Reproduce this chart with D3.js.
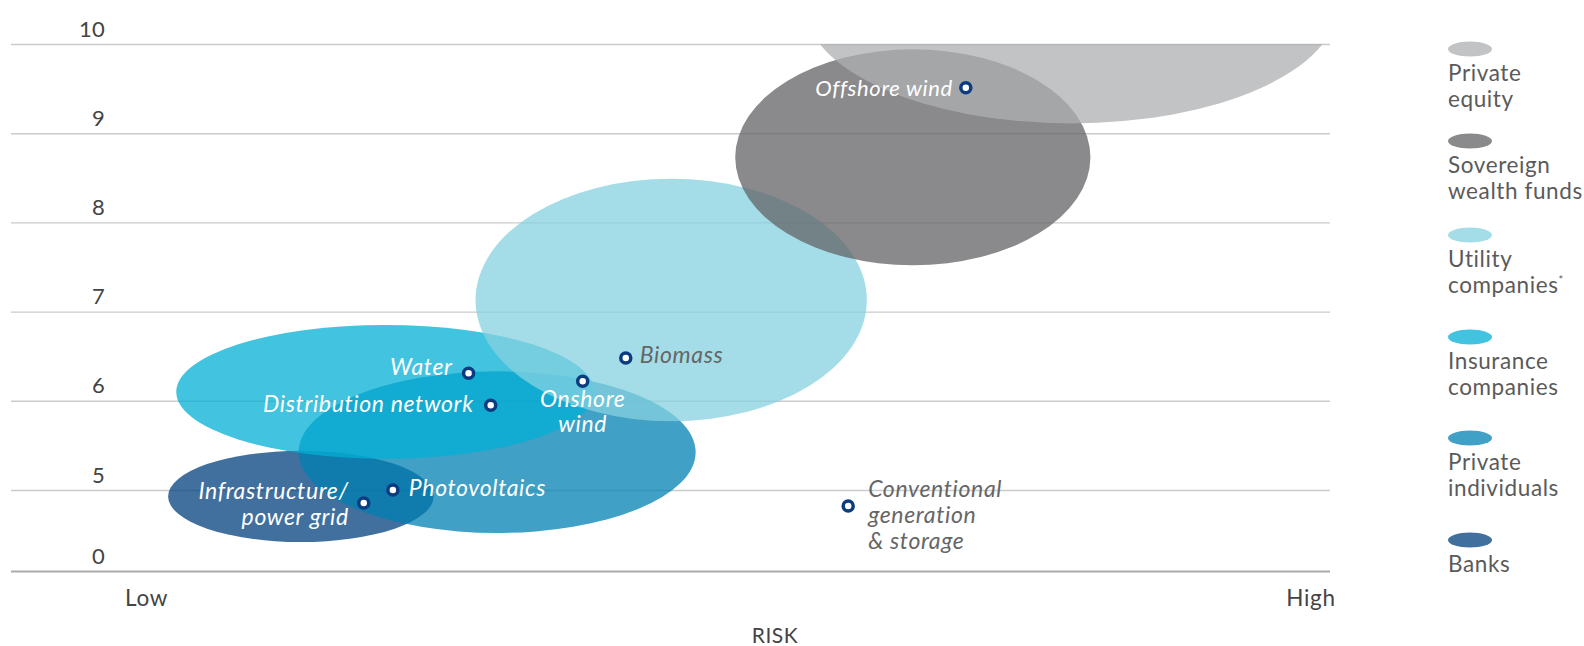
<!DOCTYPE html>
<html>
<head>
<meta charset="utf-8">
<script src="https://cdn.jsdelivr.net/npm/d3@7"></script>
<style>
  html, body { margin: 0; padding: 0; background: #fff; }
  svg { display: block; font-family: Lato, "Noto Sans", sans-serif; }
</style>
</head>
<body>
<svg id="chart" width="1584" height="646"></svg>
<script>
// ---- Data -------------------------------------------------------------
// Investor groups, in drawing order (bottom layer first)
const investors = ["Banks", "Private individuals", "Insurance companies",
                   "Utility companies", "Sovereign wealth funds", "Private equity"];
// Risk range (0 = low, 10 = high) covered by each investor group
const riskMin   = [0.19, 1.31, 0.26, 2.83, 5.06, 5.66];
const riskMax   = [2.47, 4.72, 3.85, 6.19, 8.11, 10.23];
// Return range covered by each investor group
const returnMin = [1.79, 2.35, 5.35, 5.77, 7.52, 9.11];
const returnMax = [5.44, 6.33, 6.85, 8.49, 9.94, 11.76];

// Asset classes (risk, return)
const assets      = ["Offshore wind", "Biomass", "Onshore wind", "Water",
                     "Distribution network", "Photovoltaics",
                     "Infrastructure/power grid", "Conventional generation & storage"];
const assetRisk   = [7.04, 4.12, 3.75, 2.77, 2.96, 2.12, 1.87, 6.03];
const assetReturn = [9.51, 6.48, 6.22, 6.31, 5.95, 5.00, 4.20, 4.01];

// Axis ticks
const yTicks = [0, 5, 6, 7, 8, 9, 10];
const xTickValues = [0, 10];
const xTickLabels = ["Low", "High"];
const xAxisTitle = "RISK";

// Legend, top to bottom
const legendLines = [["Private", "equity"], ["Sovereign", "wealth funds"],
                     ["Utility", "companies"], ["Insurance", "companies"],
                     ["Private", "individuals"], ["Banks"]];
const legendKeys  = ["Private equity", "Sovereign wealth funds", "Utility companies",
                     "Insurance companies", "Private individuals", "Banks"];

// ---- Styles & layout ---------------------------------------------------
const fillColor = {
  "Banks": "rgb(2,63,126)",
  "Private individuals": "rgb(0,128,178)",
  "Insurance companies": "rgb(3,175,212)",
  "Utility companies": "rgb(134,210,224)",
  "Sovereign wealth funds": "rgb(99,99,102)",
  "Private equity": "rgb(174,175,178)"
};
const fillOpacity = 0.75;

// label placement relative to each marker
const labelLayout = {
  "Offshore wind":        { lines: ["Offshore wind"], anchor: "end", dx: -13, dy: [8], color: "#fff", size: 22 },
  "Biomass":              { lines: ["Biomass"], anchor: "start", dx: 14, dy: [5], color: "#666", size: 23 },
  "Onshore wind":         { lines: ["Onshore", "wind"], anchor: "middle", dx: 0, dy: [26, 51], color: "#fff", size: 23 },
  "Water":                { lines: ["Water"], anchor: "end", dx: -16, dy: [2], color: "#fff", size: 23 },
  "Distribution network": { lines: ["Distribution network"], anchor: "end", dx: -17, dy: [7], color: "#fff", size: 23 },
  "Photovoltaics":        { lines: ["Photovoltaics"], anchor: "start", dx: 16, dy: [6], color: "#fff", size: 23 },
  "Infrastructure/power grid": { lines: ["Infrastructure/", "power grid"], anchor: "end", dx: -15, dy: [-4, 22], color: "#fff", size: 23 },
  "Conventional generation & storage": { lines: ["Conventional", "generation", "& storage"], anchor: "start", dx: 20, dy: [-9, 17, 43], color: "#666", size: 23 }
};

const plot = { left: 11, right: 1330, top: 44, bottom: 571 };
const legendX = 1448;
const legendY = [49, 141, 235, 337, 438, 540];

// ---- Scales ------------------------------------------------------------
const x = d3.scaleLinear().domain([0, 10]).range([146, 1310.5]);
// broken value axis: 0..5 compressed, 5..10 regular
const y = d3.scaleLinear().domain([0, 5, 10]).range([plot.bottom, 490, plot.top]);

const svg = d3.select("#chart");

svg.append("defs").append("clipPath").attr("id", "plotClip")
  .append("rect")
  .attr("x", plot.left).attr("y", plot.top)
  .attr("width", plot.right - plot.left).attr("height", plot.bottom - plot.top);

// ---- Gridlines & value axis -------------------------------------------
const yAxis = d3.axisLeft(y)
  .tickValues(yTicks)
  .tickFormat(d3.format("d"))
  .tickSize(-(plot.right - plot.left))
  .tickPadding(0);

const yG = svg.append("g")
  .attr("transform", `translate(${plot.left},0)`)
  .call(yAxis);
yG.select(".domain").remove();
yG.selectAll(".tick line")
  .attr("stroke", d => d === 0 ? "#a9a9a9" : "#cbcbcb")
  .attr("stroke-width", d => d === 0 ? 2 : 1.4);
yG.selectAll(".tick text")
  .attr("x", 105 - plot.left)
  .attr("dy", -8)
  .attr("text-anchor", "end")
  .attr("fill", "#444")
  .style("font-family", "Lato, sans-serif")
  .style("font-size", "22px")
  .style("letter-spacing", "0.3px");

// ---- Investor ellipses ---------------------------------------------------
const ellG = svg.append("g").attr("clip-path", "url(#plotClip)");
ellG.selectAll("ellipse")
  .data(investors)
  .join("ellipse")
  .attr("cx", (d, i) => (x(riskMin[i]) + x(riskMax[i])) / 2)
  .attr("cy", (d, i) => (y(returnMin[i]) + y(returnMax[i])) / 2)
  .attr("rx", (d, i) => Math.abs(x(riskMax[i]) - x(riskMin[i])) / 2)
  .attr("ry", (d, i) => Math.abs(y(returnMin[i]) - y(returnMax[i])) / 2)
  .attr("fill", d => fillColor[d])
  .attr("fill-opacity", fillOpacity);

// ---- Risk axis -------------------------------------------------------------
const xAxis = d3.axisBottom(x)
  .tickValues(xTickValues)
  .tickFormat((d, i) => xTickLabels[i])
  .tickSize(0)
  .tickPadding(0);
const xG = svg.append("g")
  .attr("transform", `translate(0,${plot.bottom})`)
  .call(xAxis);
xG.select(".domain").remove();
xG.selectAll(".tick text")
  .attr("y", 35)
  .attr("dy", 0)
  .attr("fill", "#444")
  .style("font-family", "Lato, sans-serif")
  .style("font-size", "22.5px")
  .style("letter-spacing", "0.7px");

svg.append("text")
  .attr("x", 775).attr("y", 643)
  .attr("text-anchor", "middle")
  .attr("fill", "#444")
  .style("font-size", "21px")
  .style("letter-spacing", "0.6px")
  .text(xAxisTitle);

// ---- Asset markers & labels -----------------------------------------------
const ptG = svg.append("g");
const pts = ptG.selectAll("g.asset")
  .data(assets)
  .join("g")
  .attr("class", "asset")
  .attr("transform", (d, i) => `translate(${x(assetRisk[i])},${y(assetReturn[i])})`);

pts.append("circle")
  .attr("r", 5)
  .attr("fill", "#fff")
  .attr("stroke", "#0c3c80")
  .attr("stroke-width", 3.5);

pts.each(function (d) {
  const L = labelLayout[d];
  const t = d3.select(this).append("text")
    .attr("text-anchor", L.anchor)
    .attr("fill", L.color)
    .style("font-style", "italic")
    .style("font-size", L.size + "px")
    .style("letter-spacing", "0.65px");
  L.lines.forEach((line, k) => {
    t.append("tspan").attr("x", L.dx).attr("y", L.dy[k]).text(line);
  });
});

// ---- Legend ------------------------------------------------------------------
const lg = svg.append("g");
legendKeys.forEach((key, i) => {
  const g = lg.append("g").attr("transform", `translate(${legendX},${legendY[i]})`);
  g.append("ellipse")
    .attr("cx", 22).attr("cy", 0).attr("rx", 22).attr("ry", 7.5)
    .attr("fill", fillColor[key]).attr("fill-opacity", fillOpacity);
  const t = g.append("text")
    .attr("fill", "#5a5a5a")
    .style("font-size", "22.5px")
    .style("letter-spacing", "0.6px");
  legendLines[i].forEach((line, k) => {
    t.append("tspan").attr("x", 0).attr("y", 32 + k * 26).text(line);
  });
  if (key === "Utility companies") {
    t.append("tspan")
      .attr("dy", -9)
      .style("font-size", "11px")
      .text("*");
  }
});
</script>
</body>
</html>
